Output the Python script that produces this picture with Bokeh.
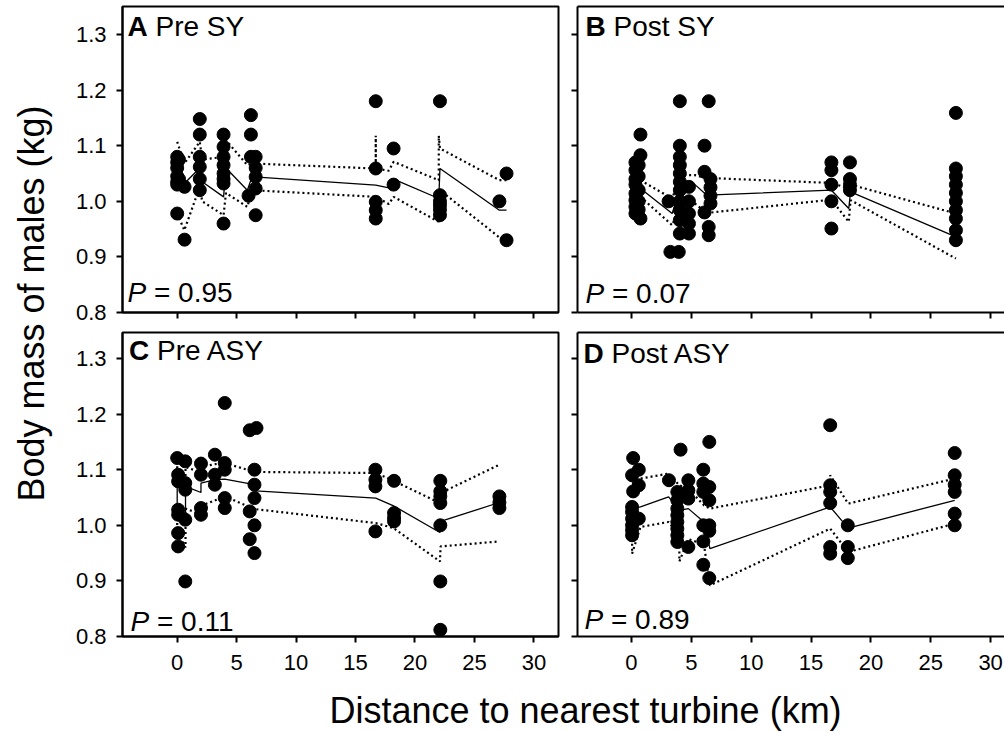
import math
from bokeh.plotting import figure
from bokeh.models import (Range1d, FixedTicker, Label, LinearAxis, PrintfTickFormatter,
                          CustomLabelingPolicy)
from bokeh.layouts import row, column
from bokeh.core.properties import value
from bokeh.embed import file_html
from bokeh.resources import INLINE

FONT = "Liberation Sans"
X_TICKS = [0, 5, 10, 15, 20, 25, 30]
Y_TICKS = [0.8, 0.9, 1.0, 1.1, 1.2, 1.3]
X_TITLE = "Distance to nearest turbine (km)"
Y_TITLE = "Body mass of males (kg)"

# ---------------- Panel A: Pre SY ----------------
A_X = [0.0, 0.0, 0.0, 0.0, 0.0, 0.0, 0.0, 0.15, 0.15, 0.62, 0.62,
       1.9, 1.9, 1.9, 1.9, 1.9, 1.9,
       3.9, 3.9, 3.9, 3.9, 3.9, 3.9, 3.9, 3.9,
       6.0, 6.2, 6.2, 6.2, 6.6, 6.6, 6.6, 6.6, 6.6,
       16.7, 16.7, 16.7, 16.7, 16.7, 18.2, 18.2,
       22.1, 22.1, 22.1, 22.1, 22.1, 22.1, 27.1, 27.7, 27.7]
A_Y = [1.08, 1.07, 1.06, 1.045, 1.035, 1.03, 0.978, 1.075, 1.04, 1.026, 0.931,
       1.148, 1.12, 1.08, 1.062, 1.04, 1.02,
       1.12, 1.098, 1.08, 1.065, 1.05, 1.04, 1.032, 0.96,
       1.01, 1.155, 1.12, 1.08, 1.08, 1.06, 1.044, 1.023, 0.975,
       1.18, 1.059, 0.999, 0.984, 0.969, 1.095, 1.03,
       1.18, 1.011, 1.0, 0.993, 0.985, 0.975, 1.0, 1.05, 0.93]
A_FX = [0.0, 0.6, 1.9, 2.1, 3.9, 4.1, 5.9, 6.3, 16.7, 16.7, 16.7, 17.8, 18.2, 22.0, 22.0, 22.1, 27.1, 27.7]
A_FIT = [1.038, 1.032, 1.060, 1.035, 1.008, 1.060, 1.020, 1.044, 1.029, 1.029, 1.029, 1.024, 1.040, 1.005, 1.005, 1.059, 0.984, 0.984]
A_HI = [1.107, 1.068, 1.107, 1.075, 1.080, 1.110, 1.065, 1.068, 1.059, 1.118, 1.059, 1.055, 1.071, 1.038, 1.118, 1.095, 1.038, 1.038]
A_LO = [0.978, 0.948, 1.026, 1.000, 0.975, 1.015, 0.990, 1.020, 1.008, 0.960, 1.008, 0.995, 1.008, 0.963, 0.960, 1.020, 0.935, 0.930]

# ---------------- Panel B: Post SY ----------------
B_X = [0.33, 0.33, 0.33, 0.33, 0.33, 0.33, 0.33, 0.33,
       0.6, 0.6, 0.6, 0.6, 0.6, 0.75, 0.75, 0.75,
       3.1, 3.25, 3.95,
       4.04, 4.04, 4.04, 4.04, 4.04, 4.04, 4.04, 4.04, 4.04, 4.04, 4.04,
       4.8, 4.8, 4.8, 4.8, 4.8,
       6.1, 6.1, 6.1, 6.45, 6.45, 6.45, 6.6, 6.6, 6.6, 6.6,
       16.7, 16.7, 16.7, 16.7, 16.7, 18.25, 18.25, 18.25, 18.25,
       27.1, 27.1, 27.1, 27.1, 27.1, 27.1, 27.1, 27.1, 27.1, 27.1]
B_Y = [1.07, 1.056, 1.04, 1.03, 1.014, 1.002, 0.99, 0.978,
       1.065, 1.045, 1.02, 1.0, 0.985, 1.12, 1.083, 0.969,
       1.0, 0.909, 0.909,
       1.18, 1.10, 1.08, 1.065, 1.05, 1.035, 1.02, 1.0, 0.984, 0.966, 0.942,
       1.026, 1.0, 0.978, 0.96, 0.942,
       1.10, 1.053, 0.98, 1.18, 0.954, 0.939, 1.04, 1.025, 1.01, 0.996,
       1.07, 1.056, 1.03, 1.0, 0.951, 1.07, 1.04, 1.03, 1.02,
       1.159, 1.059, 1.045, 1.03, 1.015, 1.0, 0.984, 0.969, 0.948, 0.93]
B_FX = [0.75, 3.4, 4.1, 5.3, 6.3, 16.7, 18.15, 18.3, 27.1]
B_FIT = [1.023, 0.978, 1.026, 1.030, 1.011, 1.020, 0.987, 1.017, 0.936]
B_HI = [1.038, 1.005, 1.047, 1.047, 1.042, 1.033, 1.023, 1.030, 0.978]
B_LO = [1.008, 0.957, 0.996, 0.996, 0.979, 1.003, 0.963, 1.002, 0.897]

# ---------------- Panel C: Pre ASY ----------------
C_X = [0.0, 0.08, 0.08, 0.08, 0.08, 0.08, 0.08,
       0.68, 0.68, 0.68, 0.68, 0.68,
       2.0, 2.0, 2.0, 2.0, 3.17, 3.17, 3.17,
       4.0, 4.0, 4.0, 4.0, 4.0,
       6.1, 6.1, 6.1, 6.5, 6.5, 6.5, 6.5, 6.5, 6.67,
       16.67, 16.67, 16.67, 16.67, 18.24, 18.24, 18.24, 18.24,
       22.13, 22.13, 22.13, 22.13, 22.13, 22.13, 22.13, 27.1, 27.1, 27.1]
C_Y = [1.121, 1.091, 1.079, 1.028, 1.019, 0.986, 0.962,
       1.115, 1.076, 1.064, 1.01, 0.899,
       1.111, 1.091, 1.031, 1.019, 1.127, 1.091, 1.073,
       1.22, 1.112, 1.10, 1.049, 1.031,
       1.171, 1.025, 0.975, 1.10, 1.073, 1.049, 1.0, 0.95, 1.175,
       1.10, 1.082, 1.07, 0.989, 1.08, 1.022, 1.013, 1.007,
       1.08, 1.061, 1.052, 1.04, 1.0, 0.899, 0.812, 1.052, 1.041, 1.031]
C_FX = [0.0, 0.0, 0.7, 0.7, 2.0, 2.0, 3.2, 4.0, 6.5, 6.6, 16.7, 18.2, 22.1, 22.15, 27.1]
C_FIT = [1.067, 1.025, 1.010, 1.070, 1.059, 1.076, 1.082, 1.083, 1.073, 1.062, 1.049, 1.035, 0.987, 1.007, 1.041]
C_HI = [1.106, 1.075, 1.060, 1.105, 1.095, 1.105, 1.110, 1.112, 1.096, 1.096, 1.094, 1.080, 1.040, 1.058, 1.109]
C_LO = [1.022, 0.990, 0.960, 1.030, 1.020, 1.035, 1.045, 1.052, 1.029, 1.029, 1.004, 0.995, 0.935, 0.962, 0.971]

# ---------------- Panel D: Post ASY ----------------
D_X = [0.05, 0.05, 0.05, 0.05, 0.05, 0.05, 0.05, 0.14, 0.14,
       0.61, 0.61, 0.61, 3.13,
       3.83, 3.83, 3.83, 3.83, 3.83, 3.83, 3.83, 3.83, 4.1,
       4.75, 4.75, 4.75, 4.75,
       6.0, 6.0, 6.0, 6.0, 6.0, 6.0, 6.5, 6.5, 6.5, 6.5, 6.5, 6.5,
       16.6, 16.6, 16.6, 16.6, 16.6, 16.6, 18.07, 18.07, 18.07,
       27.0, 27.0, 27.0, 27.0, 27.0, 27.0]
D_Y = [1.09, 1.033, 1.024, 1.012, 1.0, 0.991, 0.982, 1.121, 1.061,
       1.10, 1.072, 1.012, 1.081,
       1.06, 1.045, 1.03, 1.018, 1.006, 0.994, 0.982, 0.97, 1.136,
       1.081, 1.063, 1.048, 0.961,
       1.10, 1.075, 1.06, 1.0, 0.971, 0.929, 1.15, 1.069, 1.045, 1.0, 0.99, 0.905,
       1.18, 1.072, 1.06, 1.04, 0.961, 0.949, 1.0, 0.961, 0.941,
       1.13, 1.09, 1.073, 1.06, 1.021, 1.0]
D_FX = [0.05, 0.05, 0.75, 3.1, 4.0, 4.0, 4.75, 6.05, 6.55, 16.6, 16.6, 18.1, 27.0]
D_FIT = [1.030, 1.030, 1.033, 1.051, 1.027, 1.027, 1.030, 1.006, 0.958, 1.033, 1.033, 0.995, 1.045]
D_HI = [1.075, 1.075, 1.084, 1.093, 1.072, 1.072, 1.066, 1.036, 1.030, 1.072, 1.090, 1.039, 1.084]
D_LO = [0.994, 0.949, 0.997, 1.006, 0.982, 0.935, 0.975, 0.966, 0.892, 0.994, 0.994, 0.952, 1.003]

PANELS = [
    ("A", "Pre SY", "= 0.95"),
    ("B", "Post SY", "= 0.07"),
    ("C", "Pre ASY", "= 0.11"),
    ("D", "Post ASY", "= 0.89"),
]

NO_LABELS = "for (let i = 0; i < indices.size; i++) { indices.unset(i) } return indices"


def style_axis(ax, ticks, show, standoff):
    ax.ticker = FixedTicker(ticks=ticks)
    ax.major_tick_out = 6
    ax.major_tick_in = 0
    ax.minor_tick_out = 0
    ax.minor_tick_in = 0
    ax.major_tick_line_width = 2
    ax.major_tick_line_color = "black"
    ax.axis_line_width = 2
    ax.axis_line_color = "black"
    ax.major_label_text_font = FONT
    ax.major_label_text_color = "black"
    if show:
        ax.major_label_text_font_size = "22px"
        ax.major_label_standoff = standoff
    else:
        ax.major_label_text_font_size = "1px"
        ax.major_label_standoff = 0
        ax.major_label_overrides = {t: "" for t in ticks}
        ax.major_label_policy = CustomLabelingPolicy(code=NO_LABELS)


def make_panel(width, height, mbl, mbr, mbt, mbb, xr, yr, xlabels, ylabels, boxed):
    p = figure(width=width, height=height,
               x_range=Range1d(*xr), y_range=Range1d(*yr),
               output_backend="svg", toolbar_location=None,
               min_border_left=mbl, min_border_right=mbr,
               min_border_top=mbt, min_border_bottom=mbb,
               background_fill_color="white", border_fill_color="white")
    p.grid.visible = False
    style_axis(p.xaxis[0], X_TICKS, xlabels, 12)
    style_axis(p.yaxis[0], Y_TICKS, ylabels, 10)
    p.yaxis[0].formatter = PrintfTickFormatter(format="%.1f")
    if boxed:
        p.outline_line_color = "black"
        p.outline_line_width = 2
        p.outline_line_alpha = 1.0
    else:
        p.outline_line_color = None
        top = LinearAxis(axis_line_width=2, axis_line_color="black")
        style_axis(top, [], False, 0)
        top.major_tick_out = 0
        p.add_layout(top, "above")
    return p


def draw(p, xs, ys, fx, fit, lo, hi):
    p.line(fx, hi, line_color="black", line_width=2.2, line_dash="2 3")
    p.line(fx, lo, line_color="black", line_width=2.2, line_dash="2 3")
    p.line(fx, fit, line_color="black", line_width=1.3)
    p.scatter(xs, ys, size=13, fill_color="black", line_color="black")


def annotate(p, xr, yr, fw, fh, info, tdx, ttop, pdx, pbot):
    """ttop / pbot: distance (px) of the text's vertical centre from frame top / bottom."""
    letter, title, pval = info
    ppx = fw / (xr[1] - xr[0])
    ppy = fh / (yr[1] - yr[0])
    ty = yr[1] - ttop / ppy
    py = yr[0] + pbot / ppy
    fs = 28
    common = dict(text_font=FONT, text_font_size=f"{fs}px", text_color="black",
                  text_baseline="middle", text_align="left")
    p.add_layout(Label(x=xr[0] + tdx / ppx, y=ty, text=letter,
                       text_font_style="bold", **common))
    p.add_layout(Label(x=xr[0] + (tdx + 0.722 * fs + 0.278 * fs) / ppx, y=ty,
                       text=title, **common))
    p.add_layout(Label(x=xr[0] + pdx / ppx, y=py, text="P",
                       text_font_style="italic", **common))
    p.add_layout(Label(x=xr[0] + (pdx + 0.667 * fs + 0.278 * fs) / ppx, y=py,
                       text=pval, **common))


# frames: A/C 436 px wide at 11.89 px/km, B/D 427 px wide at 11.97 px/km
XR_L = (-4.60, 32.07)
XR_R = (-4.51, 31.16)
YR_T = (0.8, 0.8 + 306 / 556)
YR_B = (0.8, 0.8 + 304 / 556)

pa = make_panel(506, 326, 60, 10, 6, 14, XR_L, YR_T, False, True, True)
pb = make_panel(436, 326, 9, 0, 6, 14, XR_R, YR_T, False, False, False)
pc = make_panel(506, 355, 60, 10, 6, 45, XR_L, YR_B, True, True, True)
pd = make_panel(436, 355, 9, 0, 6, 45, XR_R, YR_B, True, False, False)

draw(pa, A_X, A_Y, A_FX, A_FIT, A_LO, A_HI)
draw(pb, B_X, B_Y, B_FX, B_FIT, B_LO, B_HI)
draw(pc, C_X, C_Y, C_FX, C_FIT, C_LO, C_HI)
draw(pd, D_X, D_Y, D_FX, D_FIT, D_LO, D_HI)

annotate(pa, XR_L, YR_T, 436, 306, PANELS[0], 5, 20, 5, 20)
annotate(pb, XR_R, YR_T, 427, 306, PANELS[1], 8, 20, 8, 19.5)
annotate(pc, XR_L, YR_B, 436, 304, PANELS[2], 6.5, 17.5, 8, 15.5)
annotate(pd, XR_R, YR_B, 427, 304, PANELS[3], 6, 21, 7, 17)


def blank(width, height):
    f = figure(width=width, height=height, x_range=Range1d(0, width),
               y_range=Range1d(height, 0), output_backend="svg",
               toolbar_location=None, x_axis_type=None, y_axis_type=None,
               min_border=0, min_border_left=0, min_border_right=0,
               min_border_top=0, min_border_bottom=0)
    f.grid.visible = False
    f.outline_line_color = None
    return f


yl = blank(62, 731)
yl.text(x=[31], y=[303], text=[Y_TITLE], angle=math.pi / 2,
        text_font=value(FONT), text_font_size="36px", text_color="black",
        text_align="center", text_baseline="middle")

xl = blank(942, 50)
xl.text(x=[523], y=[29], text=[X_TITLE],
        text_font=value(FONT), text_font_size="36px", text_color="black",
        text_align="center", text_baseline="middle")

layout = row(yl, column(row(pa, pb), row(pc, pd), xl))

open("out.html", "w").write(file_html(layout, INLINE))
